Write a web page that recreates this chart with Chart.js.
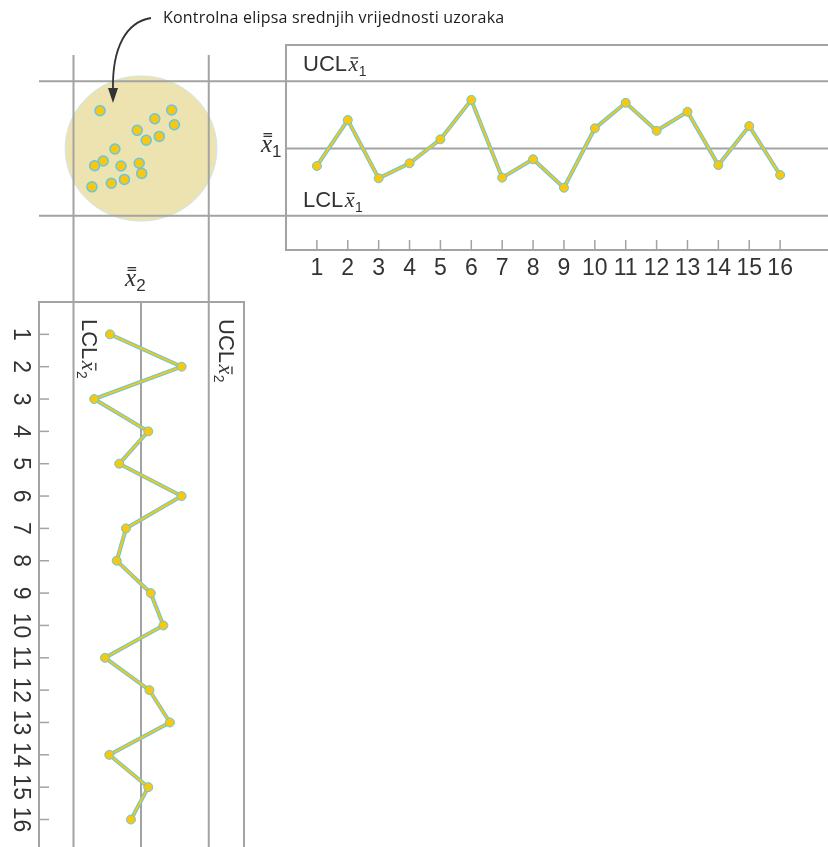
<!DOCTYPE html>
<html>
<head>
<meta charset="utf-8">
<script src="https://cdn.jsdelivr.net/npm/chart.js@4.4.1/dist/chart.umd.min.js"></script>
<style>
  html, body { margin: 0; padding: 0; background: #fff; }
  #stage { position: relative; width: 828px; height: 847px; overflow: hidden; }
  #stage canvas { position: absolute; }
  #ellipseChart { left: 0; top: 0; z-index: 1; }
  /* the x̄2 chart is laid out like the x̄1 chart, then turned a quarter clockwise */
  #x2Chart { left: 289px; top: 16px; transform-origin: 0 0; transform: rotate(90deg); z-index: 2; }
  #x1Chart { left: 0; top: 0; z-index: 3; }
  #note { position: absolute; left: 163px; top: 6px; font: 16px "Open Sans", "Noto Sans", sans-serif; letter-spacing: 0.2px; color: #1c1c1c; white-space: nowrap; z-index: 4; }
  #arrow { position: absolute; left: 0; top: 0; z-index: 4; }
</style>
</head>
<body>
<div id="stage">
  <canvas id="ellipseChart" width="286" height="300"></canvas>
  <canvas id="x2Chart" width="831" height="300"></canvas>
  <canvas id="x1Chart" width="828" height="300"></canvas>
  <div id="note">Kontrolna elipsa srednjih vrijednosti uzoraka</div>
  <svg id="arrow" width="200" height="120">
    <path d="M151 18 C 126 22, 112 48, 113 90" fill="none" stroke="#333" stroke-width="1.8"/>
    <path d="M108 88 L118 88 L113 103 Z" fill="#333"/>
  </svg>
</div>
<script>
// Sample numbers and their tick labels
const samples = [1, 2, 3, 4, 5, 6, 7, 8, 9, 10, 11, 12, 13, 14, 15, 16];
const sampleLabels = samples.map(String);

// Sample means of the two quality characteristics (in standard-error units)
const meansX1 = [-0.78, 1.27, -1.33, -0.66, 0.41, 2.17, -1.30, -0.48, -1.75, 0.90, 2.04, 0.79, 1.64, -0.74, 1.00, -1.18];
const meansX2 = [-1.38, 1.80, -2.08, 0.32, -0.97, 1.80, -0.67, -1.08, 0.43, 0.99, -1.60, 0.37, 1.28, -1.41, 0.32, -0.45];

// Joint (x̄2, x̄1) points plotted inside the control ellipse
const pairX2 = [-1.82, 1.36, 0.61, 1.48, -0.17, 0.81, 0.23, -1.16, -1.68, -2.06, -0.89, -0.08, 0.03, -0.74, -1.32, -2.18];
const pairX1 = [1.69, 1.72, 1.33, 1.06, 0.81, 0.54, 0.37, -0.02, -0.56, -0.77, -0.78, -0.66, -1.11, -1.38, -1.55, -1.71];

// Centre line and control limits
const centreLine = 0;
const ucl = 3;
const lcl = -3;

// Control ellipse: centre and semi-axes
const ellipseCentre = [0, 0];
const ellipseRadii = [3.37, 3.24];

// Look
const GRID = '#a3a3a3';
const INK = '#333333';
const GOLD = '#f8c70f';
const CYAN = '#66c6e4';
const ELLIPSE_FILL = '#ede3b1';

function drawMeanSymbol(ctx, sub, x, base) {
  ctx.fillStyle = INK;
  ctx.textAlign = 'left';
  ctx.textBaseline = 'alphabetic';
  ctx.font = 'italic 25px "Liberation Serif", serif';
  ctx.fillText('x', x, base);
  const w = ctx.measureText('x').width;
  ctx.fillRect(x + 2.5, base - 19, w - 2.5, 1.3);
  ctx.fillRect(x + 2.5, base - 16.3, w - 2.5, 1.3);
  ctx.font = '17px "Liberation Sans", sans-serif';
  ctx.fillText(sub, x + w, base + 5);
}

function drawLimitLabel(ctx, word, sub, x, base) {
  ctx.fillStyle = INK;
  ctx.textAlign = 'left';
  ctx.textBaseline = 'alphabetic';
  ctx.font = '22px "Liberation Sans Narrow", "Liberation Sans", sans-serif';
  ctx.fillText(word, x, base);
  let cx = x + ctx.measureText(word).width + 1.5;
  ctx.font = 'italic 22px "Liberation Serif", serif';
  ctx.fillText('x', cx, base);
  const w = ctx.measureText('x').width;
  ctx.fillRect(cx + 2, base - 14, w - 2, 1.3);
  cx += w + 0.5;
  ctx.font = '14px "Liberation Sans", sans-serif';
  ctx.fillText(sub, cx, base + 5);
}

// Frame, centre line, limits reaching across the ellipse panel, inward ticks and limit labels
const controlFrame = {
  id: 'controlFrame',
  beforeDatasetsDraw(chart, args, opts) {
    const { ctx, chartArea: a, scales: { x, y } } = chart;
    ctx.save();
    ctx.strokeStyle = GRID;
    ctx.lineWidth = 2;
    ctx.beginPath();
    ctx.moveTo(a.right, a.top);
    ctx.lineTo(a.left, a.top);
    ctx.lineTo(a.left, a.bottom);
    ctx.lineTo(a.right, a.bottom);
    const yc = y.getPixelForValue(centreLine);
    ctx.moveTo(a.left, yc);
    ctx.lineTo(a.right, yc);
    for (const v of [ucl, lcl]) {
      const py = y.getPixelForValue(v);
      ctx.moveTo(opts.limitStart, py);
      ctx.lineTo(a.right, py);
    }
    ctx.stroke();

    ctx.lineWidth = 1.5;
    ctx.beginPath();
    for (const t of x.ticks) {
      const px = x.getPixelForValue(t.value);
      ctx.moveTo(px, a.bottom);
      ctx.lineTo(px, a.bottom - 10);
    }
    ctx.stroke();

    drawLimitLabel(ctx, 'UCL', opts.sub, a.left + 17, y.getPixelForValue(ucl) - 10);
    drawLimitLabel(ctx, 'LCL', opts.sub, a.left + 17, y.getPixelForValue(lcl) - 9);
    if (opts.title) {
      drawMeanSymbol(ctx, opts.sub, a.left - 25, yc + 3.5);
    }
    ctx.restore();
  }
};

function makeControlChart(canvas, means, sub, xMax, yMin, yMax, title) {
  const points = samples.map((s, i) => ({ x: s, y: means[i] }));
  return new Chart(canvas, {
    type: 'line',
    data: {
      datasets: [
        {
          data: points,
          borderColor: GOLD,
          borderWidth: 2,
          pointRadius: 4.5,
          pointBackgroundColor: GOLD,
          pointBorderColor: CYAN,
          pointBorderWidth: 1,
          tension: 0,
          clip: false
        },
        {
          data: points,
          borderColor: CYAN,
          borderWidth: 4,
          pointRadius: 0,
          tension: 0,
          clip: false
        }
      ]
    },
    options: {
      responsive: false,
      maintainAspectRatio: false,
      devicePixelRatio: 1,
      animation: false,
      events: [],
      layout: { autoPadding: false, padding: { left: 286, top: 45, right: 0, bottom: 0 } },
      scales: {
        x: {
          type: 'linear',
          position: 'bottom',
          min: 0,
          max: xMax,
          afterBuildTicks: (scale) => { scale.ticks = samples.map(v => ({ value: v })); },
          afterFit: (scale) => {
            scale.height = 50;
            scale.paddingLeft = 0;
            scale.paddingRight = 0;
          },
          grid: { display: false, drawTicks: false },
          border: { display: false },
          ticks: {
            autoSkip: false,
            maxRotation: 0,
            padding: 5,
            color: INK,
            font: { family: '"Liberation Sans", sans-serif', size: 23 },
            callback: (v) => sampleLabels[samples.indexOf(v)]
          }
        },
        y: { type: 'linear', display: false, min: yMin, max: yMax }
      },
      plugins: {
        legend: { display: false },
        tooltip: { enabled: false },
        controlFrame: { sub: sub, limitStart: 39, title: title }
      }
    },
    plugins: [controlFrame]
  });
}

makeControlChart(document.getElementById('x1Chart'), meansX1, '1', 17.55, -4.53, 4.62, true);
makeControlChart(document.getElementById('x2Chart'), meansX2, '2', 16.85, -4.53, 4.57, false);

// Control ellipse with the joint sample means
const ellipsePlugin = {
  id: 'ellipsePlugin',
  beforeDatasetsDraw(chart) {
    const { ctx, scales: { x, y } } = chart;
    const cx = x.getPixelForValue(ellipseCentre[0]);
    const cy = y.getPixelForValue(ellipseCentre[1]);
    const rx = Math.abs(x.getPixelForValue(ellipseCentre[0] + ellipseRadii[0]) - cx);
    const ry = Math.abs(y.getPixelForValue(ellipseCentre[1] + ellipseRadii[1]) - cy);
    ctx.save();
    ctx.beginPath();
    ctx.ellipse(cx, cy, rx, ry, 0, 0, Math.PI * 2);
    ctx.fillStyle = ELLIPSE_FILL;
    ctx.fill();
    ctx.strokeStyle = '#cfe5ec';
    ctx.lineWidth = 1;
    ctx.stroke();
    ctx.restore();
  },
  afterDraw(chart) {
    const { ctx, scales: { x } } = chart;
    ctx.save();
    drawMeanSymbol(ctx, '2', x.getPixelForValue(centreLine) - 16, 286);
    ctx.restore();
  }
};

new Chart(document.getElementById('ellipseChart'), {
  type: 'scatter',
  data: {
    datasets: [{
      data: pairX2.map((v, i) => ({ x: v, y: pairX1[i] })),
      pointRadius: 5,
      pointBackgroundColor: GOLD,
      pointBorderColor: CYAN,
      pointBorderWidth: 1.5,
      showLine: false
    }]
  },
  options: {
    responsive: false,
    maintainAspectRatio: false,
    devicePixelRatio: 1,
    animation: false,
    events: [],
    layout: { autoPadding: false, padding: { left: 39, right: 42, top: 45, bottom: 50 } },
    scales: {
      x: { type: 'linear', display: false, min: -4.53, max: 4.57 },
      y: { type: 'linear', display: false, min: -4.53, max: 4.62 }
    },
    plugins: { legend: { display: false }, tooltip: { enabled: false } }
  },
  plugins: [ellipsePlugin]
});
</script>
</body>
</html>
